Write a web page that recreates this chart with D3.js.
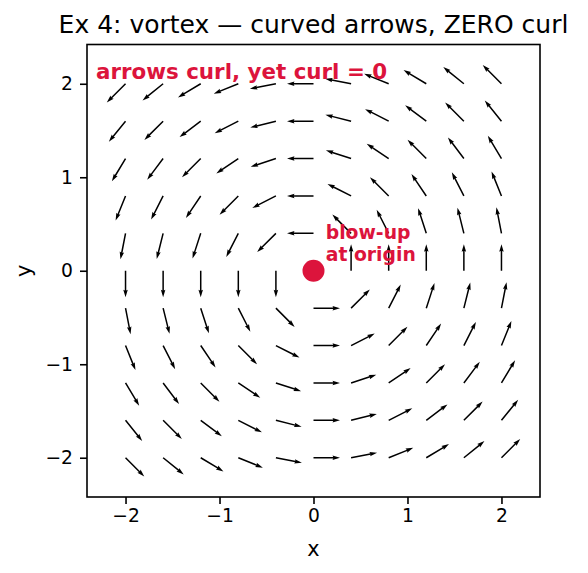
<!DOCTYPE html>
<html>
<head>
<meta charset="utf-8">
<script src="https://cdn.jsdelivr.net/npm/d3@7"></script>
<style>
  body { margin: 0; background: #fff; }
  svg { display: block; font-family: "DejaVu Sans", sans-serif; }
</style>
</head>
<body>
<script>
//Declare DATA
const gridX = [-2, -1.6, -1.2, -0.8, -0.4, 0, 0.4, 0.8, 1.2, 1.6, 2]
const gridY = [2, 1.6, 1.2, 0.8, 0.4, 0, -0.4, -0.8, -1.2, -1.6, -2]
// arrow direction in degrees (counter-clockwise from +x), one row per gridY value
const arrowAngles = [
  [-135, -141, -149, -158, -169, 180, 169, 158, 149, 141, 135],
  [-129, -135, -143, -153, -166, 180, 166, 153, 143, 135, 129],
  [-121, -127, -135, -146, -162, 180, 162, 146, 135, 127, 121],
  [-112, -117, -124, -135, -153, 180, 153, 135, 124, 117, 112],
  [-101, -104, -108, -117, -135, 180, 135, 117, 108, 104, 101],
  [-90, -90, -90, -90, -90, null, 90, 90, 90, 90, 90],
  [-79, -76, -72, -63, -45, 0, 45, 63, 72, 76, 79],
  [-68, -63, -56, -45, -27, 0, 27, 45, 56, 63, 68],
  [-59, -53, -45, -34, -18, 0, 18, 34, 45, 53, 59],
  [-51, -45, -37, -27, -14, 0, 14, 27, 37, 45, 51],
  [-45, -39, -31, -22, -11, 0, 11, 22, 31, 39, 45]
]
const xTicks = [-2, -1, 0, 1, 2]
const yTicks = [-2, -1, 0, 1, 2]

//Declare VARIABLES
const w = 588
const h = 573
const mLeft = 87, mRight = 540, mTop = 44.5, mBottom = 497
const red = '#DC143C'

const svg = d3.select('body')
  .append('svg')
  .attr('width', w)
  .attr('height', h)

// Scales
const x = d3.scaleLinear().domain([-2.41, 2.41]).range([mLeft, mRight])
const y = d3.scaleLinear().domain([-2.42, 2.42]).range([mBottom, mTop])

// Axes
const fmt = d => d < 0 ? '\u2212' + Math.abs(d) : '' + d

svg.append('g')
  .attr('transform', `translate(0,${mBottom})`)
  .call(d3.axisBottom(x).tickValues(xTicks).tickFormat(fmt).tickSize(7).tickPadding(5))
svg.append('g')
  .attr('transform', `translate(${mLeft},0)`)
  .call(d3.axisLeft(y).tickValues(yTicks).tickFormat(fmt).tickSize(7).tickPadding(7))

svg.selectAll('.domain').remove()
svg.selectAll('.tick line').attr('stroke', '#000').attr('stroke-width', 1.6)
svg.selectAll('.tick text')
  .attr('fill', '#000')
  .style('font-size', '18.7px')
  .style('font-family', 'DejaVu Sans')

// Arrows (quiver style, tail at grid point)
const L = 26.5, sw = 1.5
const hw = sw / 2, hl = 5 * sw, hal = 4.5 * sw, hhw = 1.5 * sw
const arrowPath = `M0,${-hw}L${L - hal},${-hw}L${L - hl},${-hhw}L${L},0L${L - hl},${hhw}L${L - hal},${hw}L0,${hw}Z`

const arrows = []
gridY.forEach((gy, i) => {
  gridX.forEach((gx, j) => {
    const a = arrowAngles[i][j]
    if (a !== null) arrows.push({ x: gx, y: gy, angle: a })
  })
})

svg.append('g')
  .selectAll('path')
  .data(arrows)
  .enter()
  .append('path')
  .attr('d', arrowPath)
  .attr('fill', '#000')
  .attr('transform', d => `translate(${x(d.x)},${y(d.y)}) rotate(${-d.angle})`)

// Singular point
svg.append('circle')
  .attr('cx', x(0))
  .attr('cy', y(0))
  .attr('r', 11)
  .attr('fill', red)

// Frame
svg.append('rect')
  .attr('x', mLeft)
  .attr('y', mTop)
  .attr('width', mRight - mLeft)
  .attr('height', mBottom - mTop)
  .attr('fill', 'none')
  .attr('stroke', '#000')
  .attr('stroke-width', 1.6)

// Annotations
svg.append('text')
  .attr('x', 96)
  .attr('y', 78.5)
  .attr('fill', red)
  .style('font-weight', 'bold')
  .style('font-size', '21.4px')
  .text('arrows curl, yet curl = 0')

const blow = svg.append('text')
  .attr('x', x(0.13))
  .attr('y', 238.5)
  .attr('fill', red)
  .style('font-weight', 'bold')
  .style('font-size', '18.8px')
blow.append('tspan').attr('x', x(0.13)).text('blow-up')
blow.append('tspan').attr('x', x(0.13)).attr('dy', 22.5).text('at origin')

// Title and labels
svg.append('text')
  .attr('x', (mLeft + mRight) / 2)
  .attr('y', 33)
  .attr('text-anchor', 'middle')
  .style('font-size', '25px')
  .text('Ex 4: vortex \u2014 curved arrows, ZERO curl')

svg.append('text')
  .attr('x', (mLeft + mRight) / 2)
  .attr('y', 556)
  .attr('text-anchor', 'middle')
  .style('font-size', '20.8px')
  .text('x')

svg.append('text')
  .attr('transform', `translate(31,${y(0)}) rotate(-90)`)
  .attr('text-anchor', 'middle')
  .style('font-size', '20.8px')
  .text('y')
</script>
</body>
</html>
